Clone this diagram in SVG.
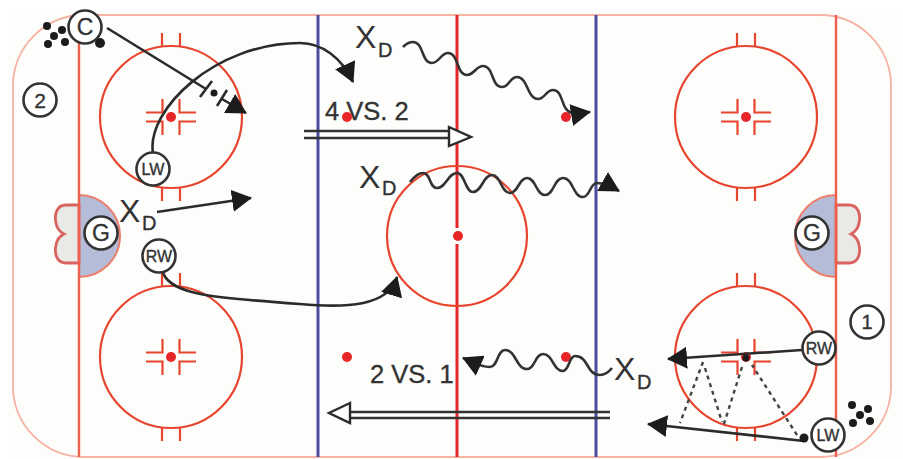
<svg xmlns="http://www.w3.org/2000/svg" width="903" height="459" viewBox="0 0 903 459">
<style>
.t{font-family:"Liberation Sans",Arial,sans-serif;fill:#333;stroke:#333;stroke-width:.35}
.x{font-family:"Liberation Sans",Arial,sans-serif;fill:#333}
.c{fill:#fff;stroke:#333;stroke-width:2.6}
.m{text-anchor:middle}
.fo{fill:none;stroke:#e8452f;stroke-width:2.2}
.dot{fill:#e8262a}
.ln{fill:none;stroke:#2b2b2b;stroke-width:2.6}
.ar{fill:none;stroke:#2b2b2b;stroke-width:2.6;marker-end:url(#head)}
.wv{fill:none;stroke:#333;stroke-width:2.6;marker-end:url(#head)}
.ds{fill:none;stroke:#444;stroke-width:2.4;stroke-dasharray:4 4}
.pk{fill:#1c1c1c}
.hollow{fill:#fff;stroke:#2b2b2b;stroke-width:2.4;stroke-linejoin:miter}
.dbl{fill:none;stroke:#333;stroke-width:2.4}
</style>
<defs>
<marker id="head" markerUnits="userSpaceOnUse" viewBox="0 0 20 22" refX="19" refY="11" markerWidth="20" markerHeight="22" orient="auto">
<polygon points="0,0 20,11 0,22" fill="#1c1c1c"/>
</marker>
<g id="faceoff">
<circle class="fo" r="71"/>
<path class="fo" d="M-9,-84V-71M9,-84V-71M-9,71V84M9,71V84"/>
<path class="fo" d="M-25,-4.500H-8.500V-18M25,-4.500H8.500V-18M-25,4.500H-8.500V18M25,4.500H8.500V18"/>
<circle class="dot" r="5"/>
</g>
<g id="net">
<path d="M79,205H66C57,205 54,214 56,223C57,229 60,232 64,234C60,236 57,239 56,245C54,254 57,263 66,263H79Z" fill="#e9e9e6" stroke="#d9635f" stroke-width="2.8"/>
</g>
</defs>
<rect width="903" height="459" fill="#fff"/>
<rect x="8" y="10" width="890" height="449" fill="#fdfdfb"/>
<g id="rink">
<path d="M84,15H820A71,71 0 0 1 891,86V386A71,71 0 0 1 820,457H84A71,71 0 0 1 13,386V86A71,71 0 0 1 84,15Z" fill="#fdfdfb" stroke="#f6b3a3" stroke-width="1.800"/>
<path d="M79,195A41,41 0 0 1 79,277Z" fill="#b4bcd8" stroke="#ee7f6c" stroke-width="2"/>
<path d="M836,195A41,41 0 0 0 836,277Z" fill="#b4bcd8" stroke="#ee7f6c" stroke-width="2"/>
<use href="#net"/>
<use href="#net" transform="matrix(-1 0 0 1 915 0)"/>
<path d="M79,43V457M836,15V457" fill="none" stroke="#ee5f4c" stroke-width="2.400"/>
<path d="M318,15V457M596,15V457" fill="none" stroke="#4c4ca0" stroke-width="3"/>
<path d="M457,15V228M457,244V457" fill="none" stroke="#e8262a" stroke-width="3"/>
<circle class="fo" cx="457" cy="236" r="70"/>
<circle class="dot" cx="458" cy="236" r="5"/>
<use href="#faceoff" x="171" y="117"/>
<use href="#faceoff" x="171" y="357"/>
<use href="#faceoff" x="746" y="117"/>
<use href="#faceoff" x="746" y="357"/>
<circle class="dot" cx="347" cy="117" r="5"/>
<circle class="dot" cx="566" cy="117" r="5"/>
<circle class="dot" cx="347" cy="357" r="5"/>
<circle class="dot" cx="566" cy="357" r="5"/>
</g>
<g id="connectors">
<path class="ln" d="M107,28L206,89"/>
<path class="ar" d="M222,99L246,113"/>
<path class="ln" d="M200,97L212,81M217,106L227,90"/>
<circle class="pk" cx="214" cy="93" r="3.500"/>
<path class="ar" d="M153,153C146,110 215,43 300,43C322,43 342,58 353,82"/>
<path class="ar" d="M157,212L251,198"/>
<path class="ar" d="M163,273C172,295 215,298 300,304C345,308 388,307 397,277"/>
<path class="wv" d="M403,47C406,44 409,42 413,42C424,42 421,63 432,63C439,63 441,53 448,53C459,53 456,75 467,75C474,75 476,66 483,66C494,66 491,87 502,87C509,87 510,77 517,77C528,77 527,99 538,99C545,99 546,90 553,90C564,90 560,110 572,113C578,114 584,113 590,112"/>
<path class="wv" d="M410,182C414,177 418,173 423,173C431,173 429,188 437,188C446,188 448,173 457,173C465,173 465,192 473,192C482,192 483,175 492,175C501,175 501,193 510,193C518,193 519,178 527,178C536,178 536,195 545,195C554,195 554,178 563,178C573,178 573,197 583,197C590,197 590,183 597,183C605,183 612,187 619,191"/>
<path class="wv" d="M612,368C608,373 604,375 600,375C586,375 589,356 575,356C569,356 569,371 563,371C553,371 553,354 543,354C535,354 535,369 527,369C516,369 516,350 505,350C497,350 498,367 490,367C481,367 472,362 463,358"/>
<path class="dbl" d="M304,131H450M304,138H450"/>
<polygon class="hollow" points="449,127 471,137 449,146"/>
<path class="dbl" d="M610,412H349M610,418H349"/>
<polygon class="hollow" points="350,403 329,413 350,423"/>
<path class="ar" d="M802,350L668,359"/>
<path class="ar" d="M804,441L648,424"/>
<path class="ds" d="M797,435L752,365"/>
<path class="ds" d="M742,367L723,427"/>
<path class="ds" d="M705,368L722,422"/>
<path class="ds" d="M703,362L680,423"/>
<circle class="pk" cx="746" cy="358" r="3.500"/>
<circle class="pk" cx="804" cy="438" r="4.500"/>
</g>
<g id="puck-stack-1">
<circle class="pk" cx="47" cy="26" r="4"/><circle class="pk" cx="54" cy="36" r="4"/><circle class="pk" cx="62" cy="30" r="4"/><circle class="pk" cx="65" cy="42" r="4"/><circle class="pk" cx="48" cy="44" r="4"/><circle class="pk" cx="100" cy="43" r="5"/>
</g>
<g id="puck-stack-2">
<circle class="pk" cx="852" cy="405" r="4"/><circle class="pk" cx="868" cy="409" r="4"/><circle class="pk" cx="860" cy="415" r="4"/><circle class="pk" cx="853" cy="423" r="4"/><circle class="pk" cx="870" cy="421" r="4"/>
</g>
<g id="node-C"><circle class="c" cx="85" cy="27" r="16.500"/><text class="t m" x="85" y="35" font-size="23">C</text></g>
<g id="node-2"><circle class="c" cx="40" cy="100" r="16.500"/><text class="t m" x="40" y="108" font-size="21">2</text></g>
<g id="node-LW-left"><circle class="c" cx="153" cy="169" r="16.500"/><text class="t m" x="153" y="175" font-size="16">LW</text></g>
<g id="node-G-left"><circle class="c" cx="101" cy="233" r="16.500"/><text class="t m" x="101" y="241" font-size="23">G</text></g>
<g id="node-RW-left"><circle class="c" cx="159" cy="256" r="16.500"/><text class="t m" x="159" y="262" font-size="16">RW</text></g>
<g id="node-G-right"><circle class="c" cx="812" cy="233" r="16.500"/><text class="t m" x="812" y="241" font-size="23">G</text></g>
<g id="node-RW-right"><circle class="c" cx="819" cy="348" r="16.500"/><text class="t m" x="819" y="354" font-size="16">RW</text></g>
<g id="node-LW-right"><circle class="c" cx="828" cy="435" r="16.500"/><text class="t m" x="828" y="441" font-size="16">LW</text></g>
<g id="node-1"><circle class="c" cx="867" cy="322" r="16.500"/><text class="t m" x="867" y="329" font-size="20">1</text></g>
<g id="node-XD-1"><text class="x" x="355" y="48" font-size="32">X</text><text class="t" x="378" y="57" font-size="20">D</text></g>
<g id="node-XD-2"><text class="x" x="359" y="188" font-size="32">X</text><text class="t" x="382" y="195" font-size="20">D</text></g>
<g id="node-XD-3"><text class="x" x="119" y="222" font-size="32">X</text><text class="t" x="142" y="230" font-size="20">D</text></g>
<g id="node-XD-4"><text class="x" x="614" y="380" font-size="32">X</text><text class="t" x="637" y="389" font-size="20">D</text></g>
<g id="label-4v2"><text class="t" x="325" y="120" font-size="25.500">4 VS. 2</text></g>
<g id="label-2v1"><text class="t" x="370" y="383" font-size="25.500">2 VS. 1</text></g>
</svg>
